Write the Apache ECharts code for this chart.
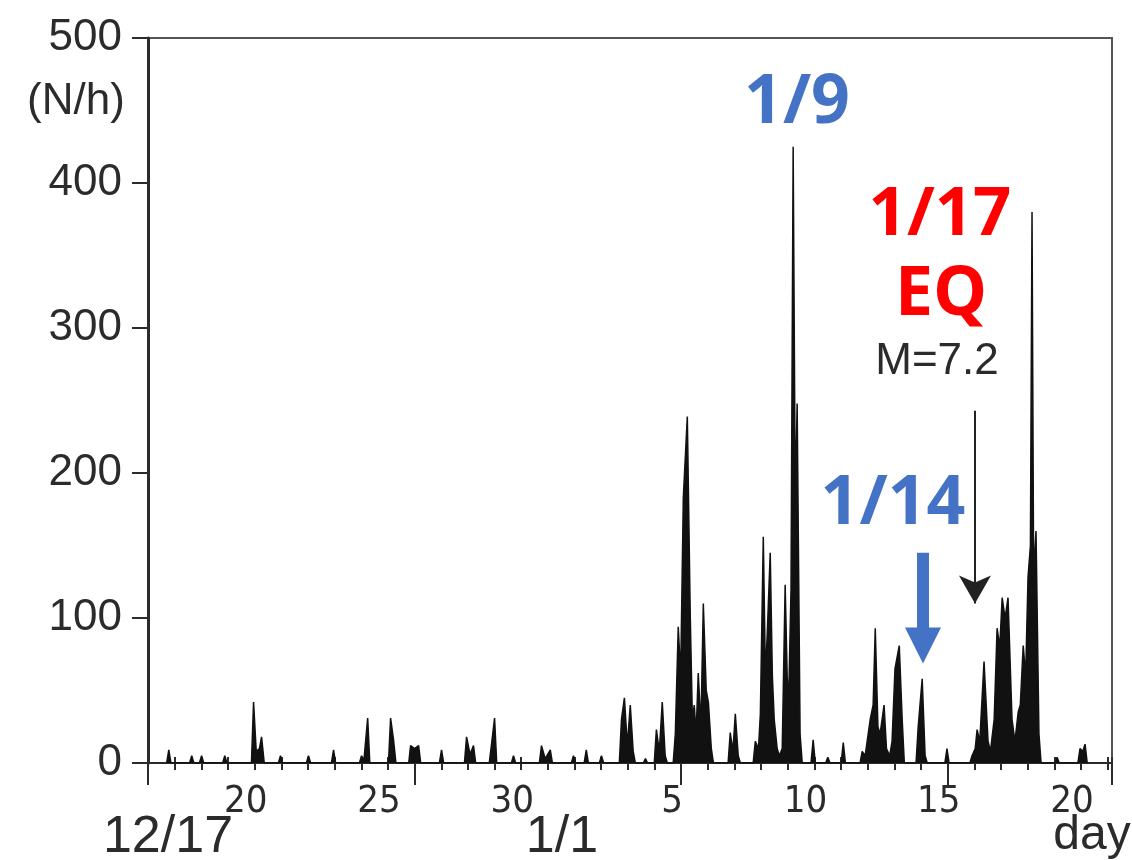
<!DOCTYPE html>
<html>
<head>
<meta charset="utf-8">
<script src="https://cdn.jsdelivr.net/npm/echarts@6/dist/echarts.min.js"></script>
<style>
  html, body { margin: 0; padding: 0; background: #fff; }
  #chart { width: 1132px; height: 860px; }
</style>
</head>
<body>
<div id="chart"></div>
<script>
// day position: Dec d -> d, Jan d -> 31 + d
const dayPos = [
  16.70, 16.78, 16.86, 17.56, 17.64, 17.72, 17.93, 18.01, 18.09, 18.80, 18.88, 18.96,
  19.88, 19.96, 20.06, 20.18, 20.26, 20.36, 20.89, 20.97, 21.05, 21.94, 22.02, 22.10,
  22.88, 22.96, 23.04, 23.93, 24.01, 24.10, 24.24, 24.32, 25.02, 25.10, 25.21, 25.30,
  25.78, 25.85, 26.00, 26.15, 26.23, 26.93, 27.01, 27.09, 27.87, 27.95, 28.08, 28.21, 28.29,
  28.80, 28.88, 29.00, 29.08, 29.63, 29.71, 29.79, 30.68, 30.76, 30.90, 31.09, 31.17,
  31.88, 31.96, 32.04, 32.36, 32.44, 32.52, 32.93, 33.01, 33.09,
  33.68, 33.76, 33.87, 33.98, 34.09, 34.20, 34.28, 34.58, 34.66, 34.74,
  34.99, 35.07, 35.18, 35.29, 35.40, 35.48,
  35.70, 35.78, 35.89, 35.98, 36.08, 36.23, 36.34, 36.42, 36.49, 36.56, 36.64, 36.74, 36.83, 36.94, 37.02, 37.13, 37.21,
  37.76, 37.84, 37.94, 38.03, 38.14, 38.22,
  38.70, 38.78, 38.90, 38.97, 39.08, 39.16, 39.23, 39.34, 39.42, 39.49, 39.60, 39.68, 39.79, 39.90, 40.00, 40.05, 40.12, 40.20, 40.28, 40.35, 40.46, 40.54,
  40.87, 40.95, 41.03, 41.42, 41.50, 41.58, 42.00, 42.08, 42.16,
  42.71, 42.79, 42.90, 43.09, 43.20, 43.28, 43.38, 43.46, 43.61, 43.70, 43.82, 43.91, 44.02, 44.18, 44.29, 44.37,
  44.81, 44.89, 45.04, 45.15, 45.23, 45.89, 45.97, 46.05,
  46.83, 46.91, 47.03, 47.10, 47.20, 47.36, 47.51, 47.60, 47.74, 47.85, 47.95, 48.04, 48.15, 48.26, 48.41, 48.52,
  48.64, 48.72, 48.83, 48.92, 49.01, 49.10, 49.16, 49.22, 49.31, 49.42, 49.50,
  50.02, 50.10, 50.18, 50.88, 50.96, 51.06, 51.15, 51.23
];
// counts per hour (N/h)
const counts = [
  0, 9, 0, 0, 5, 0, 0, 5, 0, 0, 5, 0,
  0, 42, 8, 10, 18, 0, 0, 5, 0, 0, 5, 0,
  0, 9, 0, 0, 5, 2, 31, 0, 0, 31, 16, 0,
  0, 12, 10, 12, 0, 0, 9, 0, 0, 18, 6, 12, 0,
  0, 12, 31, 0, 0, 5, 0, 0, 12, 3, 9, 0,
  0, 5, 0, 0, 9, 0, 0, 5, 0,
  0, 30, 45, 12, 40, 8, 0, 0, 3, 0,
  0, 23, 8, 42, 5, 0,
  0, 20, 94, 60, 183, 239, 102, 30, 40, 20, 62, 25, 110, 50, 42, 10, 0,
  0, 21, 8, 34, 5, 0,
  0, 15, 10, 34, 156, 60, 90, 145, 60, 30, 10, 5, 10, 123, 40, 60, 120, 425, 180, 248, 20, 0,
  0, 16, 0, 0, 4, 0, 0, 14, 0,
  0, 8, 5, 30, 40, 93, 25, 20, 40, 10, 5, 15, 65, 81, 30, 0,
  0, 25, 58, 5, 0, 0, 10, 0,
  0, 5, 10, 23, 15, 70, 15, 8, 30, 93, 80, 114, 100, 114, 30, 15,
  35, 40, 81, 60, 128, 150, 380, 130, 160, 20, 0,
  0, 4, 0, 0, 10, 8, 13, 0
];
// tick labels on the day axis
const tickDays = [20, 25, 30, 36, 41, 46, 51];
const tickLabels = ['20', '25', '30', '5', '10', '15', '20'];

const seriesData = dayPos.map((d, i) => [d, counts[i]]);

const narrow = "'Liberation Sans Narrow', 'DejaVu Sans Condensed', sans-serif";
const sans = "'Liberation Sans', Arial, sans-serif";
const bold = "'Noto Sans', 'Open Sans', sans-serif";
const ink = '#2b2b2b';

const chart = echarts.init(document.getElementById('chart'));
chart.setOption({
  backgroundColor: '#fff',
  animation: false,
  grid: {
    left: 148, right: 20, top: 38, bottom: 97,
    show: true, borderColor: '#555', borderWidth: 2
  },
  xAxis: [{
    type: 'value',
    min: 16,
    max: 52.16,
    interval: 1,
    axisLine: { lineStyle: { color: ink, width: 2 } },
    axisTick: { length: 7, lineStyle: { color: ink, width: 2 } },
    splitLine: { show: false },
    axisLabel: {
      fontFamily: narrow,
      fontSize: 38,
      color: ink,
      margin: 20,
      padding: [0, 18, 0, 0],
      showMinLabel: false,
      showMaxLabel: false,
      formatter: function (v) {
        const k = tickDays.indexOf(Math.round(v));
        return k >= 0 && Math.abs(v - Math.round(v)) < 1e-6 ? tickLabels[k] : '';
      }
    }
  }, {
    type: 'value',
    position: 'bottom',
    min: 16,
    max: 52.16,
    interval: 1,
    axisLine: { show: false },
    axisTick: { inside: true, length: 6, lineStyle: { color: ink, width: 2 } },
    axisLabel: { show: false },
    splitLine: { show: false }
  }, {
    // long ticks every ten days (12/26, 1/5, 1/15)
    type: 'value',
    position: 'bottom',
    min: 16,
    max: 52.16,
    interval: 10,
    axisLine: { show: false },
    axisTick: { length: 22, lineStyle: { color: ink, width: 2 } },
    axisLabel: { show: false },
    splitLine: { show: false }
  }],
  yAxis: {
    type: 'value',
    min: 0,
    max: 500,
    interval: 100,
    axisLine: { show: true, lineStyle: { color: ink, width: 3 } },
    axisTick: { show: true, length: 16, lineStyle: { color: ink, width: 2 } },
    splitLine: { show: false },
    axisLabel: {
      fontFamily: sans,
      fontSize: 44,
      color: ink,
      margin: 26
    }
  },
  graphic: [
    { type: 'text', style: { text: '(N/h)', x: 76, y: 102, textAlign: 'center', textVerticalAlign: 'middle', font: '44px ' + sans, fill: ink } },
    { type: 'text', style: { text: '12/17', x: 168, y: 838, textAlign: 'center', textVerticalAlign: 'middle', font: '52px ' + sans, fill: ink } },
    { type: 'text', style: { text: '1/1', x: 562, y: 838, textAlign: 'center', textVerticalAlign: 'middle', font: '52px ' + sans, fill: ink } },
    { type: 'text', style: { text: 'day', x: 1092, y: 836, textAlign: 'center', textVerticalAlign: 'middle', font: '48px ' + sans, fill: ink } },
    { type: 'text', style: { text: '1/9', x: 797, y: 104, textAlign: 'center', textVerticalAlign: 'middle', font: 'bold 68px ' + bold, fill: '#4472C4' } },
    { type: 'text', style: { text: '1/14', x: 893, y: 505, textAlign: 'center', textVerticalAlign: 'middle', font: 'bold 68px ' + bold, fill: '#4472C4' } },
    { type: 'text', style: { text: '1/17', x: 940, y: 216, textAlign: 'center', textVerticalAlign: 'middle', font: 'bold 67px ' + bold, fill: '#FF0000' } },
    { type: 'text', style: { text: 'EQ', x: 941, y: 296, textAlign: 'center', textVerticalAlign: 'middle', font: 'bold 68px ' + bold, fill: '#FF0000' } },
    { type: 'text', style: { text: 'M=7.2', x: 937, y: 362, textAlign: 'center', textVerticalAlign: 'middle', font: '44px ' + sans, fill: ink } }
  ],
  series: [{
    type: 'line',
    data: seriesData,
    showSymbol: false,
    smooth: false,
    lineStyle: { color: '#111', width: 1.5 },
    areaStyle: { color: '#111', opacity: 1 },
    markLine: {
      silent: true,
      label: { show: false },
      emphasis: { disabled: true },
      data: [
        [
          { coord: [45.07, 145], symbol: 'none' },
          { coord: [45.07, 81], symbol: 'triangle', symbolSize: [36, 36], lineStyle: { color: '#4472C4', width: 12, type: 'solid' }, itemStyle: { color: '#4472C4' } }
        ],
        [
          { coord: [47.02, 243], symbol: 'none' },
          { coord: [47.02, 110], symbol: 'arrow', symbolSize: [24, 28], lineStyle: { color: '#222', width: 2, type: 'solid' }, itemStyle: { color: '#222' } }
        ]
      ]
    }
  }]
});
</script>
</body>
</html>
